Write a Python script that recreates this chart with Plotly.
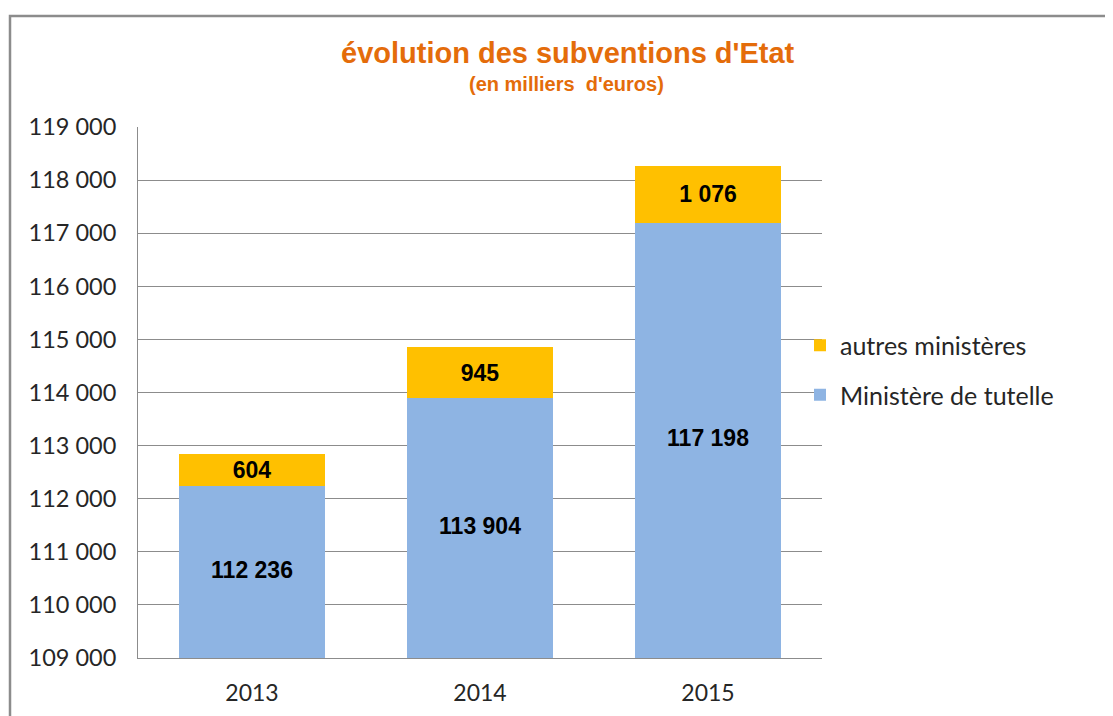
import plotly.graph_objects as go

years = ["2013", "2014", "2015"]
tutelle = [112236, 113904, 117198]
autres = [604, 945, 1076]
y_min, y_max = 109000, 119000

BLUE = "#8EB4E3"
YELLOW = "#FFC000"
ORANGE = "#E46C0A"
GRID = "#8C8C8C"
TXT = "#262626"

# Page body has an 8px offset; figure coordinates are shifted to compensate.
OFF = 8
PL, PR, PT, PB = 138 - OFF, 822 - OFF, 127 - OFF, 658 - OFF
W, H = 1113, 716
PW, PH = PR - PL, PB - PT

def px(x):
    return (x - OFF - PL) / PW

def py(y):
    return (PB - (y - OFF)) / PH

label_font = dict(family="Liberation Sans", size=23, color="black", weight="bold")

fig = go.Figure()
fig.add_trace(go.Bar(
    x=years, y=tutelle, name="Ministère de tutelle",
    legendgroup="g2", legendrank=2,
    marker=dict(color=BLUE, line=dict(width=0)),
    hoverinfo="skip",
))
fig.add_trace(go.Bar(
    x=years, y=autres, name="autres ministères",
    legendgroup="g1", legendrank=1,
    marker=dict(color=YELLOW, line=dict(width=0)),
    text=autres, texttemplate="%{y:,d}", textposition="inside",
    insidetextanchor="middle",
    textfont=label_font,
    hoverinfo="skip",
))
# labels for the visible part of the lower bars
fig.add_trace(go.Scatter(
    x=years, y=[(y_min + v) / 2 for v in tutelle],
    customdata=tutelle, mode="text", texttemplate="%{customdata:,d}",
    textposition="middle center",
    textfont=label_font, showlegend=False, hoverinfo="skip",
))

fig.update_layout(
    barmode="stack",
    bargap=0.36,
    width=W, height=H,
    margin=dict(l=PL, r=W - PR, t=PT, b=H - PB),
    paper_bgcolor="white", plot_bgcolor="white",
    separators=", ",
    uniformtext=dict(minsize=10, mode="show"),
    font=dict(family="Lato", color=TXT),
    legend=dict(x=px(800), xanchor="left", y=py(370), yanchor="middle",
                font=dict(family="Lato", size=25, color=TXT),
                traceorder="grouped",
                itemwidth=30, tracegroupgap=14, bgcolor="rgba(0,0,0,0)"),
    showlegend=True,
)
fig.update_yaxes(range=[y_min, y_max], dtick=1000, tickformat=",d",
                 showgrid=True, gridcolor=GRID, gridwidth=1,
                 showline=True, linecolor=GRID, linewidth=1,
                 ticks="", tickfont=dict(family="Lato", size=23.5, color=TXT),
                 ticklabelstandoff=16, zeroline=False, fixedrange=True)
fig.update_xaxes(showline=True, linecolor=GRID, linewidth=1, ticks="",
                 tickfont=dict(family="Lato", size=23, color=TXT),
                 ticklabelstandoff=14, fixedrange=True)

fig.add_annotation(text="<b>évolution des subventions d'Etat</b>",
                   xref="paper", yref="paper", x=px(568), y=py(53),
                   showarrow=False, xanchor="center", yanchor="middle",
                   font=dict(family="Liberation Sans", size=29, color=ORANGE))
fig.add_annotation(text="<b>(en milliers  d'euros)</b>",
                   xref="paper", yref="paper", x=px(566), y=py(84),
                   showarrow=False, xanchor="center", yanchor="middle",
                   font=dict(family="Liberation Sans", size=20, color=ORANGE))

fig.add_shape(type="rect", xref="paper", yref="paper",
              x0=px(10), x1=px(1140),
              y0=py(740), y1=py(16),
              line=dict(color="#8C8C8C", width=2.5), fillcolor="rgba(0,0,0,0)", layer="below")

fig.write_html("out.html")
